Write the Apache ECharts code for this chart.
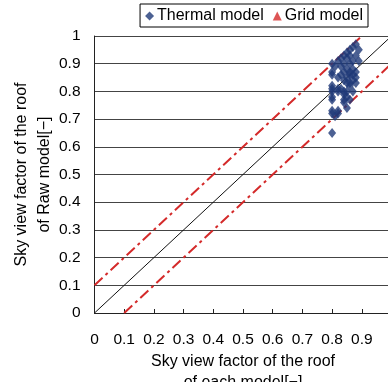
<!DOCTYPE html>
<html>
<head>
<meta charset="utf-8">
<style>
  html, body { margin: 0; padding: 0; background: #fff; }
  #chart { width: 388px; height: 382px; }
</style>
<script src="https://cdn.jsdelivr.net/npm/echarts@6/dist/echarts.min.js"></script>
</head>
<body>
<div id="chart"></div>
<script>
// Sky view factor of the roof: each model (x) vs Raw model (y)
const thermalModel = [
  [0.88,0.97],[0.89,0.95],[0.87,0.96],[0.86,0.95],[0.85,0.94],[0.84,0.93],
  [0.86,0.93],[0.88,0.93],[0.83,0.92],[0.85,0.92],[0.87,0.91],[0.89,0.91],
  [0.82,0.91],[0.84,0.90],[0.86,0.90],[0.80,0.90],[0.81,0.89],[0.83,0.89],
  [0.85,0.88],[0.87,0.88],[0.88,0.87],[0.80,0.87],[0.84,0.87],[0.80,0.86],
  [0.86,0.86],[0.82,0.85],[0.85,0.85],[0.87,0.84],[0.84,0.84],[0.86,0.83],
  [0.85,0.83],[0.88,0.83],[0.86,0.82],[0.80,0.82],[0.82,0.81],[0.83,0.81],
  [0.84,0.80],[0.80,0.81],[0.85,0.80],[0.87,0.80],[0.84,0.79],[0.80,0.78],
  [0.85,0.78],[0.84,0.77],[0.86,0.77],[0.80,0.77],[0.84,0.76],[0.85,0.74],
  [0.80,0.73],[0.82,0.73],[0.80,0.72],[0.81,0.71],[0.82,0.72],[0.80,0.65],
  [0.80,0.80],[0.82,0.80],[0.86,0.87],[0.83,0.86],[0.88,0.85],[0.87,0.86]
];
const gridModel = [];

// Reference lines: 1:1 and ±0.1 bands
const oneToOne = [[0, 0], [1, 1]];
const upperBand = [[0, 0.1], [0.9, 1]];
const lowerBand = [[0.1, 0], [1, 0.9]];

const axisTicks = { min: 0, max: 1, interval: 0.1 };

const FONT = '"Liberation Sans", Arial, sans-serif';
const chart = echarts.init(document.getElementById('chart'), null, { renderer: 'canvas' });

const bandStyle = { color: '#d42a2a', width: 2, type: [11, 4, 3, 4] };

chart.setOption({
  animation: false,
  textStyle: { fontFamily: FONT, color: '#000' },
  legend: {
    right: 20, top: 4,
    padding: [4, 5, 3, 5],
    borderColor: '#000', borderWidth: 1, borderRadius: 0,
    itemGap: 9, itemWidth: 9, itemHeight: 9,
    textStyle: { fontFamily: FONT, fontSize: 16, color: '#000', padding: [0, 0, 0, -2] },
    data: [
      { name: 'Thermal model', icon: 'diamond' },
      { name: 'Grid model', icon: 'triangle' }
    ]
  },
  grid: { left: 94.5, top: 36, width: 297, height: 277, outerBoundsMode: 'none', containLabel: false },
  xAxis: {
    type: 'value', min: axisTicks.min, max: axisTicks.max, interval: axisTicks.interval,
    name: 'Sky view factor of the roof\nof each model[\u2212]',
    nameLocation: 'middle', nameGap: 38, nameMoveOverlap: false,
    nameTextStyle: { fontFamily: FONT, fontSize: 16, color: '#000', lineHeight: 21 },
    axisLine: { lineStyle: { color: '#222', width: 1 } },
    axisTick: { inside: true, length: 4, lineStyle: { color: '#222' } },
    axisLabel: { fontFamily: FONT, fontSize: 15.5, color: '#000', margin: 19 },
    splitLine: { show: false }
  },
  yAxis: {
    type: 'value', min: axisTicks.min, max: axisTicks.max, interval: axisTicks.interval,
    name: 'Sky view factor of the roof\nof Raw model[\u2212]',
    nameLocation: 'middle', nameGap: 38, nameRotate: 90, nameMoveOverlap: false,
    nameTextStyle: { fontFamily: FONT, fontSize: 16, color: '#000', lineHeight: 23 },
    axisLine: { show: true, lineStyle: { color: '#222', width: 1 } },
    axisTick: { show: false },
    axisLabel: { fontFamily: FONT, fontSize: 15.5, color: '#000', margin: 14 },
    splitLine: { show: true, lineStyle: { color: '#444', width: 1 } }
  },
  series: [
    {
      name: '1:1', type: 'line', data: oneToOne, symbol: 'none',
      lineStyle: { color: '#111', width: 1 }, z: 2, silent: true
    },
    {
      name: '+0.1', type: 'line', data: upperBand, symbol: 'none',
      lineStyle: bandStyle, z: 2, silent: true
    },
    {
      name: '-0.1', type: 'line', data: lowerBand, symbol: 'none',
      lineStyle: bandStyle, z: 2, silent: true
    },
    {
      name: 'Grid model', type: 'scatter', data: gridModel,
      symbol: 'triangle', symbolSize: 8, itemStyle: { color: '#d42a2a' }, z: 3
    },
    {
      name: 'Thermal model', type: 'scatter', data: thermalModel,
      symbol: 'diamond', symbolSize: [8, 10], itemStyle: { color: '#1f3a78' }, z: 4
    }
  ]
});
</script>
</body>
</html>
